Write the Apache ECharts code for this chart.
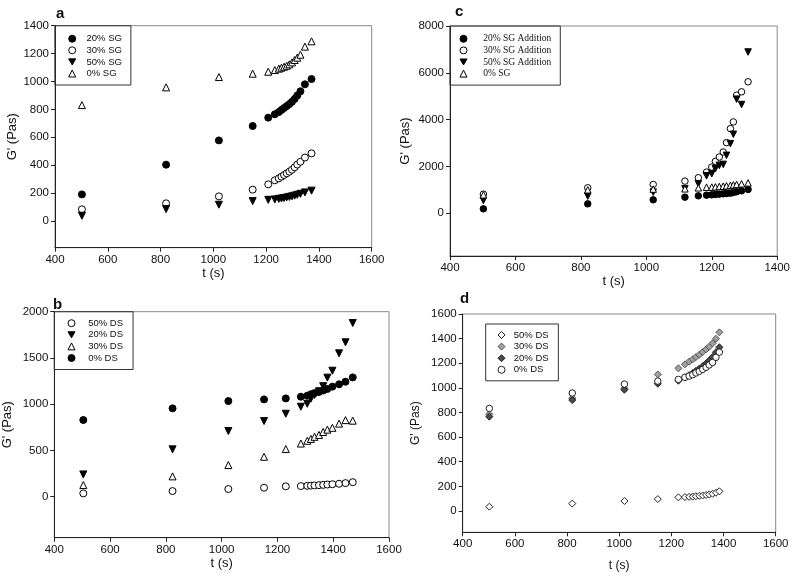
<!DOCTYPE html>
<html><head><meta charset="utf-8">
<script src="https://cdn.jsdelivr.net/npm/echarts@6/dist/echarts.min.js"></script>
<style>html,body{margin:0;padding:0;background:#fff}#c{width:793px;height:577px}</style>
</head><body><div id="c"></div>
<script>
// ---- Panel a (SG) ----
const aX   = [502, 821, 1021, 1149, 1208, 1233, 1248, 1258, 1268, 1278, 1288, 1298, 1308, 1318, 1330, 1347, 1372];
const aSG20 = [191, 404, 578, 681, 741, 765, 781, 796, 810, 824, 838, 855, 875, 900, 930, 980, 1018];
const aSG30 = [84, 127, 177, 225, 263, 292, 306, 318, 330, 342, 354, 368, 385, 405, 425, 455, 485];
const aSG50 = [38, 86, 117, 143, 152, 155, 159, 162, 165, 169, 173, 177, 182, 188, 195, 205, 218];
const aSG0  = [831, 958, 1032, 1056, 1070, 1082, 1092, 1099, 1106, 1113, 1123, 1137, 1154, 1171, 1192, 1250, 1288];
// ---- Panel c (SG addition) ----
const cX   = [502, 821, 1021, 1118, 1159, 1184, 1200, 1211, 1223, 1235, 1245, 1257, 1266, 1276, 1291, 1311];
const cSG20 = [186, 400, 572, 686, 743, 772, 786, 800, 815, 829, 843, 857, 886, 915, 957, 1015];
const cSG30 = [815, 1086, 1229, 1372, 1515, 1758, 1972, 2215, 2400, 2615, 3015, 3615, 3901, 5044, 5187, 5616];
const cSG50 = [543, 729, 900, 1050, 1257, 1600, 1686, 1900, 2043, 2086, 2472, 2972, 3372, 4873, 4644, 6888];
const cSG0  = [786, 1000, 1032, 1043, 1086, 1110, 1115, 1125, 1140, 1155, 1170, 1190, 1210, 1230, 1255, 1295];
// ---- Panel b (DS) ----
const bX   = [504, 824, 1024, 1152, 1230, 1284, 1307, 1320, 1333, 1349, 1364, 1379, 1397, 1421, 1444, 1470];
const bDS50 = [36, 61, 83, 97, 112, 115, 118, 120, 122, 125, 128, 132, 135, 140, 147, 157];
const bDS20 = [241, 512, 710, 818, 897, 973, 1005, 1060, 1100, 1140, 1195, 1287, 1362, 1550, 1669, 1878];
const bDS30 = [126, 220, 342, 432, 515, 575, 605, 625, 648, 668, 700, 725, 745, 790, 828, 822];
const bDS0  = [829, 955, 1034, 1052, 1063, 1081, 1092, 1108, 1120, 1132, 1148, 1165, 1190, 1215, 1243, 1290];
// ---- Panel d (DS) ----
const dX   = [502, 820, 1020, 1148, 1227, 1252, 1268, 1282, 1294, 1307, 1320, 1333, 1345, 1358, 1371, 1384];
const dDS50 = [35, 60, 81, 97, 111, 113, 115, 117, 120, 123, 126, 130, 134, 140, 148, 160];
const dDS30 = [785, 917, 996, 1109, 1159, 1191, 1213, 1232, 1250, 1269, 1291, 1313, 1334, 1362, 1399, 1451];
const dDS20 = [766, 901, 985, 1034, 1058, 1085, 1103, 1120, 1138, 1156, 1176, 1198, 1222, 1250, 1290, 1330];
const dDS0  = [833, 958, 1031, 1055, 1069, 1086, 1096, 1107, 1121, 1134, 1150, 1167, 1186, 1207, 1248, 1290];
// ---- tick labels ----
const xTicksA = [400, 1600], xTicksC = [400, 1400];
const yTicksA = [0, 200, 400, 600, 800, 1000, 1200, 1400];
const yTicksC = [0, 2000, 4000, 6000, 8000];
const yTicksB = [0, 500, 1000, 1500, 2000];
const yTicksD = [0, 200, 400, 600, 800, 1000, 1200, 1400, 1600];

const F = 'Liberation Sans, Arial, sans-serif';
const DOWN = 'path://M0,0L10,0L5,8.66Z';
const zip = (xs, ys) => xs.map((x, i) => [x, ys[i]]);
const plain = v => String(v);

function xa(gi, range, gap, nameSize) {
  return { type: 'value', gridIndex: gi, min: range[0], max: range[1], interval: 200,
    name: 't (s)', nameLocation: 'middle', nameGap: gap,
    nameTextStyle: { fontFamily: F, fontSize: nameSize, color: '#111' },
    axisLine: { show: true, onZero: false, lineStyle: { color: '#222', width: 1 } },
    axisTick: { show: true, inside: false, length: 4, lineStyle: { color: '#222' } },
    axisLabel: { fontFamily: F, fontSize: 11.5, color: '#111', margin: 6, formatter: plain },
    splitLine: { show: false } };
}
function ya(gi, min, max, ticks, gap, nameSize) {
  return { type: 'value', gridIndex: gi, min: min, max: max,
    name: "G' (Pas)", nameLocation: 'middle', nameGap: gap,
    nameTextStyle: { fontFamily: F, fontSize: nameSize, color: '#111' },
    axisLine: { show: true, onZero: false, lineStyle: { color: '#222', width: 1 } },
    axisTick: { show: true, inside: false, length: 4, customValues: ticks, lineStyle: { color: '#222' } },
    axisLabel: { fontFamily: F, fontSize: 11.5, color: '#111', margin: 6, customValues: ticks, formatter: plain },
    splitLine: { show: false } };
}
function sc(name, gi, xs, ys, symbol, fill, border, size) {
  return { type: 'scatter', name: name, xAxisIndex: gi, yAxisIndex: gi,
    data: zip(xs, ys), symbol: symbol, symbolSize: size || 7,
    itemStyle: { color: fill, borderColor: border, borderWidth: 1, opacity: 1 },
    emphasis: { disabled: true }, animation: false };
}
function lg(names, left, top, pad, font, textPadLeft) {
  return { orient: 'vertical', left: left, top: top, padding: pad, itemGap: 0.6,
    itemWidth: 7, itemHeight: 7, borderColor: '#333', borderWidth: 1, borderRadius: 0,
    itemStyle: { borderWidth: 1 },
    data: names, selectedMode: false,
    formatter: n => n.split('|')[1],
    textStyle: { fontFamily: font, fontSize: 9.5, color: '#111', lineHeight: 11, padding: [0, 0, 0, textPadLeft] } };
}

const grid = [
  { left: 55, top: 25.7, width: 316.7, height: 222 },
  { left: 450, top: 26, width: 327.3, height: 230 },
  { left: 54.3, top: 311.7, width: 334.7, height: 226 },
  { left: 462.7, top: 314, width: 313, height: 218.3 }
].map(g => Object.assign(g, { show: true, borderColor: '#888', borderWidth: 1, backgroundColor: 'transparent' }));

const option = {
  backgroundColor: '#fff',
  animation: false,
  title: [
    { text: 'a', left: 56, top: 6 },
    { text: 'c', left: 455, top: 4 },
    { text: 'b', left: 53, top: 297 },
    { text: 'd', left: 460, top: 291 }
  ].map(t => Object.assign(t, { padding: 0, textStyle: { fontFamily: F, fontSize: 15, fontWeight: 'bold', color: '#111' } })),
  grid: grid,
  xAxis: [ xa(0, xTicksA, 16, 13), xa(1, xTicksC, 12, 13), xa(2, xTicksA, 12, 13), xa(3, xTicksA, 27, 12) ],
  yAxis: [ ya(0, -191, 1400, yTicksA, 36, 13), ya(1, -1829, 8000, yTicksC, 38, 13), ya(2, -443, 2000, yTicksB, 40, 13), ya(3, -173, 1600, yTicksD, 41, 12) ],
  legend: [
    lg(['a|20% SG', 'a|30% SG', 'a|50% SG', 'a|0% SG'], 55, 25.7, [7.5, 9, 6, 13.2], F, 5.8),
    lg(['c|20% SG Addition', 'c|30% SG Addition', 'c|50% SG Addition', 'c|0% SG'], 450, 26, [7.3, 9, 6, 9.5], 'Liberation Serif, Times New Roman, serif', 11.2),
    lg(['b|50% DS', 'b|20% DS', 'b|30% DS', 'b|0% DS'], 54.3, 311.7, [6, 10, 6, 13.2], F, 8.2),
    lg(['d|50% DS', 'd|30% DS', 'd|20% DS', 'd|0% DS'], 485.7, 324, [5.5, 9.7, 5.5, 11.8], F, 3.8)
  ],
  series: [
    sc('a|20% SG', 0, aX, aSG20, 'circle', '#000', '#000'),
    sc('a|30% SG', 0, aX, aSG30, 'circle', '#fff', '#000'),
    sc('a|50% SG', 0, aX, aSG50, DOWN, '#000', '#000'),
    sc('a|0% SG', 0, aX, aSG0, 'triangle', '#fff', '#000'),
    sc('c|20% SG Addition', 1, cX, cSG20, 'circle', '#000', '#000', 6.5),
    sc('c|30% SG Addition', 1, cX, cSG30, 'circle', '#fff', '#000', 6.5),
    sc('c|50% SG Addition', 1, cX, cSG50, DOWN, '#000', '#000', 6.5),
    sc('c|0% SG', 1, cX, cSG0, 'triangle', '#fff', '#000', 6.5),
    sc('b|50% DS', 2, bX, bDS50, 'circle', '#fff', '#000'),
    sc('b|20% DS', 2, bX, bDS20, DOWN, '#000', '#000'),
    sc('b|30% DS', 2, bX, bDS30, 'triangle', '#fff', '#000'),
    sc('b|0% DS', 2, bX, bDS0, 'circle', '#000', '#000'),
    sc('d|50% DS', 3, dX, dDS50, 'diamond', '#fff', '#222', 7),
    sc('d|30% DS', 3, dX, dDS30, 'diamond', '#a0a0a0', '#555', 7),
    sc('d|20% DS', 3, dX, dDS20, 'diamond', '#4a4a4a', '#222', 7),
    sc('d|0% DS', 3, dX, dDS0, 'circle', '#fff', '#222', 6.5)
  ]
};
const chart = echarts.init(document.getElementById('c'), null, { renderer: 'canvas' });
chart.setOption(option);
</script></body></html>
